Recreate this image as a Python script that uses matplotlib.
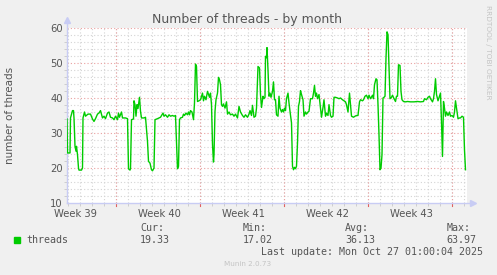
import numpy as np
import matplotlib
matplotlib.use("Agg")
from matplotlib import pyplot as plt

# hours since start of the graph window, and thread count
hours = [0, 1, 6, 7, 11, 13, 14, 16, 18, 19, 21, 23, 24, 29, 31, 32, 35, 37, 42, 47,
         51, 54, 57, 61, 64, 67, 71, 74, 77, 81, 84, 87, 91, 94, 97, 101, 103, 105, 109, 111,
         117, 121, 123, 126, 127, 129, 133, 134, 136, 138, 140, 142, 145, 147, 149, 154, 157, 161, 163, 166,
         169, 171, 174, 176, 181, 187, 192, 194, 197, 201, 204, 207, 211, 214, 217, 219, 221, 223, 225, 227,
         231, 233, 235, 238, 241, 243, 245, 247, 250, 253, 255, 257, 259, 261, 264, 267, 271, 273, 275, 278,
         281, 283, 285, 287, 289, 291, 293, 294, 296, 298, 301, 303, 305, 307, 309, 311, 313, 316, 319, 321,
         324, 327, 331, 334, 337, 341, 344, 347, 351, 354, 357, 361, 364, 366, 369, 371, 374, 377, 379, 382,
         385, 387, 389, 392, 394, 396, 397, 399, 400, 402, 404, 406, 408, 411, 413, 415, 417, 419, 422, 424,
         426, 429, 431, 433, 435, 437, 439, 442, 444, 446, 449, 451, 453, 455, 457, 459, 461, 463, 465, 467,
         469, 472, 474, 477, 479, 482, 484, 487, 491, 493, 495, 497, 499, 501, 504, 507, 509, 512, 514, 517,
         519, 522, 524, 527, 529, 532, 534, 537, 541, 544, 547, 551, 554, 557, 559, 562, 565, 567, 569, 573,
         576, 579, 582, 585, 587, 591, 593, 596, 599, 602, 604, 607, 611, 613, 615, 618, 620, 622, 624, 626,
         628, 630, 632, 634, 636, 638, 640, 642, 644, 646, 649, 651, 654, 657, 659, 661, 663, 666, 668, 670,
         673, 677, 681, 687, 694, 701, 707, 713, 715, 719, 722, 725, 727, 731, 733, 735, 737, 739, 742, 745,
         747, 749, 751, 753, 755, 757, 759, 762, 765, 767, 770, 773, 775, 777, 779, 782, 785, 787, 790, 793,
         794, 795, 797]
threads = [34.0, 24.3, 24.3, 34.3, 36.4, 36.4, 34.3, 26.2, 24.8, 26.2, 23.8, 20.0, 19.4, 19.4, 20.0, 34.3, 36.0, 34.8, 35.4, 35.4,
           34.0, 33.3, 34.1, 35.4, 35.7, 36.4, 34.3, 34.8, 34.1, 35.7, 36.0, 34.5, 34.3, 33.8, 34.8, 33.8, 35.7, 34.5, 36.0, 34.3,
           34.3, 34.1, 19.8, 19.4, 19.8, 33.8, 34.0, 39.2, 38.1, 34.8, 38.1, 37.0, 40.2, 36.2, 34.3, 34.3, 34.5, 27.6, 21.9, 21.4,
           19.5, 19.2, 20.0, 33.8, 34.1, 34.5, 35.7, 34.8, 35.2, 34.5, 35.2, 34.8, 35.0, 34.8, 35.0, 27.6, 19.8, 20.5, 33.8, 34.3,
           34.5, 35.4, 35.0, 35.7, 35.2, 36.0, 35.2, 36.4, 36.0, 33.8, 38.6, 49.7, 49.0, 39.0, 39.2, 39.5, 41.4, 39.2, 40.5, 39.5,
           41.9, 41.0, 40.2, 41.4, 38.1, 26.7, 21.7, 23.8, 36.2, 39.5, 41.4, 45.9, 45.2, 43.8, 38.1, 37.6, 38.3, 37.1, 38.9, 35.4,
           36.0, 35.2, 35.4, 34.8, 35.4, 34.3, 37.6, 36.0, 35.0, 34.5, 35.2, 34.5, 35.4, 36.4, 35.0, 37.9, 34.5, 34.8, 37.1, 49.0,
           48.6, 41.0, 37.3, 40.5, 39.8, 40.2, 51.9, 51.5, 54.4, 48.0, 40.5, 41.4, 40.2, 41.9, 44.6, 39.5, 39.5, 35.2, 34.8, 40.5,
           37.1, 36.0, 36.7, 36.0, 37.1, 36.4, 39.8, 41.4, 38.6, 36.2, 32.9, 20.5, 19.5, 20.2, 19.8, 20.5, 27.1, 37.6, 39.0, 42.1,
           41.0, 39.5, 34.8, 36.0, 35.4, 36.0, 36.2, 39.8, 39.8, 41.4, 43.6, 40.5, 41.4, 39.8, 41.0, 37.1, 34.5, 37.3, 39.5, 34.8,
           35.7, 35.0, 38.1, 35.0, 34.5, 34.8, 40.2, 40.2, 40.0, 39.8, 40.0, 39.5, 39.2, 38.9, 38.1, 36.0, 41.4, 38.1, 34.8, 34.5,
           34.8, 35.0, 35.0, 38.9, 39.5, 39.2, 39.5, 40.5, 40.8, 39.8, 40.8, 39.8, 40.8, 39.8, 43.8, 45.5, 45.2, 38.1, 29.5, 19.5,
           20.0, 23.8, 40.0, 40.2, 40.5, 51.4, 58.9, 58.1, 48.6, 39.8, 40.2, 40.8, 39.8, 39.0, 40.5, 40.5, 49.5, 49.3, 41.9, 39.5,
           39.0, 38.9, 39.0, 38.9, 38.9, 39.0, 38.9, 39.0, 39.8, 39.5, 40.2, 40.5, 39.8, 38.9, 39.8, 41.9, 45.5, 41.0, 39.2, 40.5,
           41.4, 33.1, 23.3, 39.0, 37.1, 34.8, 36.0, 35.0, 36.0, 34.8, 35.0, 34.5, 36.0, 39.2, 37.1, 34.1, 34.3, 34.3, 34.8, 34.5,
           29.5, 25.2, 19.5]

week_labels = ["Week 39", "Week 40", "Week 41", "Week 42", "Week 43"]
week_label_pos = [16, 184, 352, 520, 688]
week_lines = [98, 266, 434, 602, 770]
y_labels = [10, 20, 30, 40, 50, 60]

legend_name = "threads"
stat_names = ["Cur:", "Min:", "Avg:", "Max:"]
stat_values = ["19.33", "17.02", "36.13", "63.97"]
last_update = "Last update: Mon Oct 27 01:00:04 2025"

W, H = 497, 275
BG = "#f0f0f0"
TXT = "#555555"
AXC = "#c8ccf4"
GREEN = "#00cc00"


def fx(px):
    return px / W


def fy(py):
    return 1 - py / H


fig = plt.figure(figsize=(W / 100, H / 100), dpi=100, facecolor=BG)
ax = fig.add_axes([fx(67), fy(203), fx(467) - fx(67), fy(28) - fy(203)])
ax.set_facecolor("white")
ax.set_xlim(0, 800)
ax.set_ylim(10, 60)

# grid
ax.set_xticks(np.arange(2, 800, 24), minor=True)
ax.set_yticks(np.arange(10, 61, 2), minor=True)
ax.grid(which="minor", color="#d4d4d4", linestyle=(0, (1, 2)), linewidth=0.8)
for y in y_labels[1:]:
    ax.axhline(y, color="#eaa0a0", linestyle=(0, (1, 2)), linewidth=0.8)
for x in week_lines:
    ax.axvline(x, color="#eaa0a0", linestyle=(0, (1, 2)), linewidth=0.8)
    ax.axvline(x, ymin=-0.015, ymax=0, color="#e06060", linewidth=0.8, clip_on=False)

ax.plot(hours, threads, color=GREEN, linewidth=1.0, zorder=3)

ax.set_xticks(week_label_pos)
ax.set_xticklabels(week_labels)
ax.set_yticks(y_labels)
ax.tick_params(which="major", length=0, labelsize=7.2, labelcolor=TXT, pad=3)
ax.tick_params(axis="x", which="major", pad=4)
ax.tick_params(which="minor", length=2, color="#c8c8c8", width=0.6, direction="out")

for s in ["top", "right"]:
    ax.spines[s].set_visible(False)
for s in ["left", "bottom"]:
    ax.spines[s].set_color(AXC)
    ax.spines[s].set_linewidth(1.0)
ax.spines["bottom"].set_bounds(0, 808)
ax.spines["left"].set_bounds(10, 61.5)
ax.plot([812], [10], marker=">", color=AXC, markersize=5, clip_on=False)
ax.plot([0], [62.2], marker="^", color=AXC, markersize=5, clip_on=False)

# titles and side texts
fig.text(fx(247.5), fy(19), "Number of threads - by month", ha="center", va="center",
         fontsize=9, color=TXT)
fig.text(fx(10), fy(115), "number of threads", rotation=90, ha="center", va="center",
         fontsize=7.5, color=TXT)
fig.text(fx(488), fy(5), "RRDTOOL / TOBI OETIKER", rotation=270, ha="center", va="top",
         fontsize=5.3, color="#c4c4c4")

# legend block
mono = "DejaVu Sans Mono"
fig.patches.append(plt.Rectangle((fx(14), fy(242.5)), fx(6), fy(237) - fy(242.5),
                                 transform=fig.transFigure, color=GREEN, figure=fig))
fig.text(fx(26.7), fy(239.7), legend_name, family=mono, fontsize=7.2, color=TXT, va="center")
for i, (n, v) in enumerate(zip(stat_names, stat_values)):
    x0 = [140, 242.7, 345, 446.7][i]
    fig.text(fx(x0), fy(227.7), n, family=mono, fontsize=7.2, color=TXT, va="center")
    fig.text(fx(x0), fy(239.7), v, family=mono, fontsize=7.2, color=TXT, va="center")
fig.text(fx(261), fy(251.7), last_update, family=mono, fontsize=7.2, color=TXT, va="center")
fig.text(fx(247.5), fy(264), "Munin 2.0.73", ha="center", va="center", fontsize=5.2, color="#c4c4c4")

fig.savefig("out.png", dpi=100, facecolor=BG)
